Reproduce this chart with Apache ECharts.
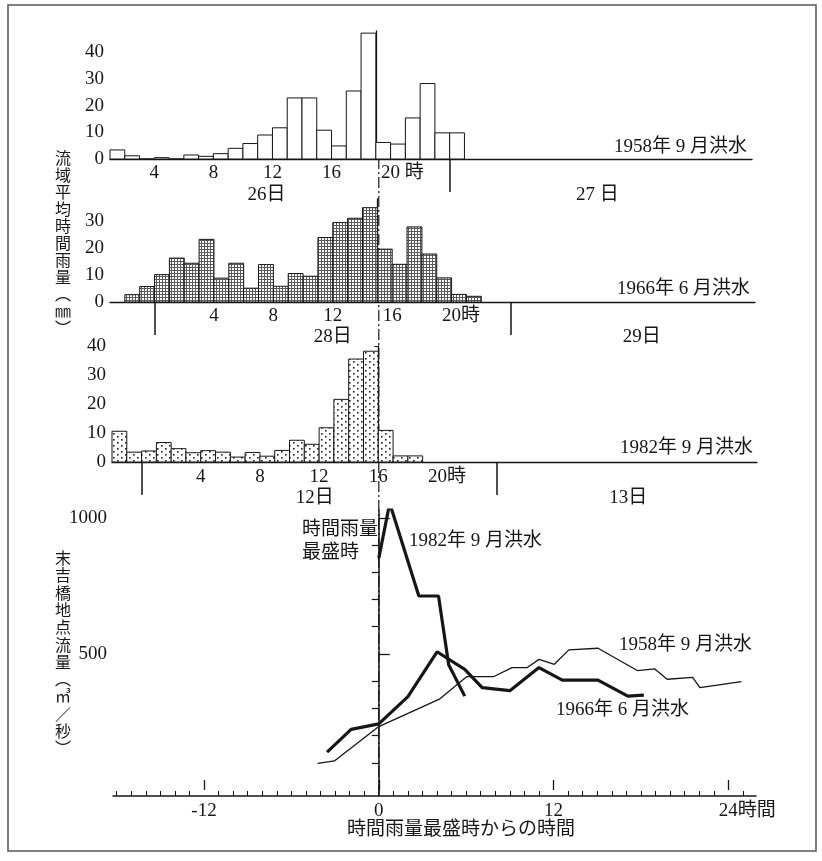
<!DOCTYPE html>
<html><head><meta charset="utf-8">
<script src="https://cdn.jsdelivr.net/npm/echarts@6/dist/echarts.min.js"></script>
<style>html,body{margin:0;padding:0;background:#fff}#c{width:822px;height:861px}</style>
</head><body><div id="c"></div>
<script>
// ---------- DATA ----------
// Hourly basin-average rainfall (mm). Each series starts at the given time (hours relative to the end of the peak rainfall hour).
const rain1958 = [3.4, 1.2, 0, 0.5, 0, 1.5, 1, 2, 4, 5.8, 9, 11.7, 22.9, 22.9, 10.8, 4.9, 25.5, 47.2, 6.2, 5.6, 15.4, 28.3, 9.8, 9.8];
const rain1958Start = -18;
const rain1966 = [2.7, 5.7, 10.1, 16.2, 14.3, 23.1, 8.8, 14.3, 5.1, 13.8, 5.8, 10.5, 9.5, 23.8, 29.3, 30.9, 34.8, 19.5, 13.9, 27.7, 17.7, 8.9, 2.8, 2.1];
const rain1966Start = -17;
const rain1982 = [10.6, 3.4, 3.8, 6.7, 4.6, 3.2, 3.9, 3.4, 1.7, 3.3, 2.0, 4.0, 7.5, 6.1, 11.8, 21.6, 35.5, 38.2, 10.9, 2.1, 2.1];
const rain1982Start = -18;

// Clock hour at which the peak rainfall hour ended
const peakHour1958 = 19;
const peakHour1966 = 15;
const peakHour1982 = 16;

// Hour-of-day tick labels and day boundaries (clock hours)
const hourTicks = [4, 8, 12, 16, 20];
const dayBoundary1958 = [24];
const dayBoundary1966 = [0, 24];
const dayBoundary1982 = [0, 24];
// Day labels and their positions (hours relative to peak)
const dayLabels1958 = ['26日', '27 日'];
const dayLabelPos1958 = [-7.4, 15];
const dayLabels1966 = ['28日', '29日'];
const dayLabelPos1966 = [-3, 17.8];
const dayLabels1982 = ['12日', '13日'];
const dayLabelPos1982 = [-4.3, 16.9];

// Rain axis ticks
const rainTicks1958 = [0, 10, 20, 30, 40];
const rainTicks1966 = [0, 10, 20, 30];
const rainTicks1982 = [0, 10, 20, 30, 40];

// Discharge at Sueyoshi bridge (m3/s): [hours from peak rainfall, discharge]
const flow1982 = [[0, 852], [0.75, 1054], [2.75, 713], [4.1, 713], [4.8, 460], [5.9, 345]];
const flow1966 = [[-3.55, 139], [-1.9, 223], [0, 243], [2, 343], [4, 508], [5.9, 443], [7.1, 376], [9, 365], [11, 450], [12.6, 404], [15.05, 404], [17.1, 345], [18.2, 349]];
const flow1958 = [[-4.2, 98], [-3.05, 107], [0, 233], [4.2, 335], [6.05, 417], [7.9, 417], [9.15, 450], [10.2, 450], [11, 480], [12.05, 462], [13.05, 515], [15.05, 521], [17.75, 439], [18.95, 445], [19.8, 407], [21.55, 414], [22.05, 376], [24.9, 398]];

const flowLabelTicks = [500, 1000];
const flowMinorTicks = [100, 200, 300, 400, 600, 700, 800, 900];
const timeLabelTicks = [-12, 0, 12, 24];

// ---------- CHART ----------
const FONT = "'Liberation Serif','Noto Sans CJK JP',serif";
const FS = 19;
const INK = '#161616';
const chart = echarts.init(document.getElementById('c'), null, {renderer: 'canvas'});

function makePattern(w, h, draw) {
  const c = document.createElement('canvas'); c.width = w; c.height = h;
  const g = c.getContext('2d'); g.fillStyle = '#fff'; g.fillRect(0, 0, w, h); draw(g);
  return {image: c, repeat: 'repeat'};
}
const densePat = makePattern(3, 3, g => { g.fillStyle = '#5a5a5a'; g.fillRect(0, 0, 3, 1); g.fillRect(0, 0, 1, 3); });
const sparsePat = makePattern(8, 6, g => { g.fillStyle = '#222'; g.fillRect(1, 1, 1.6, 1.6); g.fillRect(5, 4, 1.6, 1.6); });

function intRange(a, b) { const r = []; for (let i = a; i <= b; i++) r.push(i); return r; }

const labelStyle = {color: INK, fontFamily: FONT, fontSize: FS};

function hourAxis(gridIndex, peak, bounds, min, max, suffix, margin) {
  return {
    type: 'value', gridIndex, min, max, position: 'bottom',
    axisLine: {show: true, onZero: false, lineStyle: {color: INK, width: 1.3}},
    splitLine: {show: false},
    axisTick: {show: true, inside: false, length: 33, customValues: bounds.map(h => h - peak), lineStyle: {color: INK, width: 1.5}},
    axisLabel: Object.assign({}, labelStyle, {
      margin, customValues: hourTicks.map(h => h - peak), showMinLabel: true, showMaxLabel: true,
      formatter: v => { const h = Math.round(v + peak); return h === 20 ? '{g|' + suffix + '}20' + suffix : String(h); },
      rich: {g: {color: 'rgba(0,0,0,0)', fontFamily: FONT, fontSize: FS}}
    })
  };
}
function dayAxis(gridIndex, labels, pos, min, max, margin) {
  return {
    type: 'value', gridIndex, min, max, position: 'bottom',
    axisLine: {show: false}, axisTick: {show: false}, splitLine: {show: false},
    axisLabel: Object.assign({}, labelStyle, {
      margin, customValues: pos, showMinLabel: true, showMaxLabel: true,
      formatter: v => { const i = pos.findIndex(p => Math.abs(p - v) < 1e-6); return i >= 0 ? labels[i] : ''; }
    })
  };
}
function rainYAxis(gridIndex, max, ticks) {
  return {
    type: 'value', gridIndex, min: 0, max,
    axisLine: {show: true, lineStyle: {color: INK, width: 1.3}},
    splitLine: {show: false},
    axisTick: {show: true, inside: false, length: 4, customValues: ticks.filter(t => t > 0), lineStyle: {color: INK}},
    axisLabel: Object.assign({}, labelStyle, {margin: 6, customValues: ticks, showMinLabel: true, showMaxLabel: true, formatter: v => String(v)})
  };
}
function barSeries(xAxisIndex, yAxisIndex, values, start, fill) {
  return {
    type: 'custom', xAxisIndex, yAxisIndex, clip: false,
    data: values.map((v, i) => [start + i, start + i + 1, v]),
    encode: {x: [0, 1], y: 2},
    renderItem: (params, api) => {
      const p0 = api.coord([api.value(0), api.value(2)]);
      const p1 = api.coord([api.value(1), 0]);
      return {type: 'rect', shape: {x: p0[0], y: p0[1], width: p1[0] - p0[0], height: p1[1] - p0[1]},
        style: {fill: fill, stroke: INK, lineWidth: 1}};
    }
  };
}

const X3 = {min: -18.25, max: 25.9};

function txt(x, y, text, opts) {
  return {type: 'text', x, y, z: 50, style: Object.assign({text, font: FS + 'px ' + FONT, fill: INK, textAlign: 'left', textVerticalAlign: 'middle'}, opts || {})};
}

const option = {
  animation: false,
  backgroundColor: '#fff',
  grid: [
    {left: 110, top: 31, width: 642, height: 128},
    {left: 110, top: 199, width: 645, height: 103},
    {left: 112, top: 346, width: 645, height: 116},
    {left: 113, top: 510, width: 643, height: 286},
    {left: 113, top: 160, width: 643, height: 636}
  ],
  xAxis: [
    hourAxis(0, peakHour1958, dayBoundary1958, -18, 25.47, ' 時', 5),
    dayAxis(0, dayLabels1958, dayLabelPos1958, -18, 25.47, 27),
    hourAxis(1, peakHour1966, dayBoundary1966, -18, 25.43, '時', 5),
    dayAxis(1, dayLabels1966, dayLabelPos1966, -18, 25.43, 26),
    hourAxis(2, peakHour1982, dayBoundary1982, -18, 25.6, '時', 6),
    dayAxis(2, dayLabels1982, dayLabelPos1982, -18, 25.6, 27),
    { // bottom: axis line + hourly minor ticks
      type: 'value', gridIndex: 3, min: X3.min, max: X3.max, position: 'bottom',
      axisLine: {show: true, onZero: false, lineStyle: {color: INK, width: 1.5}},
      splitLine: {show: false},
      axisTick: {show: true, inside: true, length: 5, customValues: intRange(-18, 25).filter(v => timeLabelTicks.indexOf(v) < 0), lineStyle: {color: INK}},
      axisLabel: {show: false}
    },
    { // bottom: major ticks + labels
      type: 'value', gridIndex: 3, min: X3.min, max: X3.max, position: 'bottom',
      axisLine: {show: false}, splitLine: {show: false},
      axisTick: {show: true, inside: true, length: 10, customValues: timeLabelTicks, lineStyle: {color: INK, width: 1.3}},
      axisLabel: Object.assign({}, labelStyle, {
        margin: 6, customValues: timeLabelTicks, showMinLabel: true, showMaxLabel: true,
        formatter: v => v === 24 ? '{g|時間}24時間' : String(v),
        rich: {g: {color: 'rgba(0,0,0,0)', fontFamily: FONT, fontSize: FS}}
      })
    },
    {type: 'value', gridIndex: 4, min: X3.min, max: X3.max, show: false}
  ],
  yAxis: [
    rainYAxis(0, 48, rainTicks1958),
    rainYAxis(1, 38, rainTicks1966),
    rainYAxis(2, 40, rainTicks1982),
    {
      type: 'value', gridIndex: 3, min: -22, max: 1029,
      axisLine: {show: true, lineStyle: {color: INK, width: 1.5}},
      splitLine: {show: false},
      axisTick: {show: true, inside: true, length: 11, customValues: flowLabelTicks, lineStyle: {color: INK, width: 1.3}},
      axisLabel: Object.assign({}, labelStyle, {margin: 6, customValues: flowLabelTicks, showMinLabel: true, showMaxLabel: true, formatter: v => String(v)})
    },
    {
      type: 'value', gridIndex: 3, min: -22, max: 1029,
      axisLine: {show: false}, splitLine: {show: false},
      axisTick: {show: true, inside: true, length: 7, customValues: flowMinorTicks, lineStyle: {color: INK, width: 1.2}},
      axisLabel: {show: false}
    },
    {type: 'value', gridIndex: 4, min: 0, max: 1, show: false}
  ],
  series: [
    { // peak-rainfall reference line (dash-dot)
      type: 'line', xAxisIndex: 8, yAxisIndex: 5, data: [[0, 0], [0, 1]], symbol: 'none', silent: true, z: 1,
      lineStyle: {color: INK, width: 1.2, type: [11, 3, 2, 3]}
    },
    barSeries(0, 0, rain1958, rain1958Start, '#fff'),
    barSeries(2, 1, rain1966, rain1966Start, densePat),
    barSeries(4, 2, rain1982, rain1982Start, sparsePat),
    {type: 'line', xAxisIndex: 6, yAxisIndex: 3, data: flow1958, symbol: 'none', lineStyle: {color: INK, width: 1.3}},
    {type: 'line', xAxisIndex: 6, yAxisIndex: 3, data: flow1966, symbol: 'none', lineStyle: {color: INK, width: 3.2}},
    {type: 'line', xAxisIndex: 6, yAxisIndex: 3, data: flow1982, symbol: 'none', lineStyle: {color: INK, width: 3.2}}
  ],
  graphic: [
    {type: 'rect', z: 0, shape: {x: 8, y: 5, width: 808, height: 846}, style: {fill: 'none', stroke: '#555', lineWidth: 1.5}},
    txt(614, 147, '1958年 9 月洪水'),
    txt(617, 289, '1966年 6 月洪水'),
    txt(620, 448, '1982年 9 月洪水'),
    txt(302, 530, '時間雨量'),
    txt(302, 553, '最盛時'),
    txt(409, 541, '1982年 9 月洪水'),
    txt(619, 645, '1958年 9 月洪水'),
    txt(556, 710, '1966年 6 月洪水'),
    txt(347, 830, '時間雨量最盛時からの時間'),
    txt(63, 245, '流\n域\n平\n均\n時\n間\n雨\n量\n︵\n㎜\n︶', {textAlign: 'center', font: '16px ' + FONT, lineHeight: 17}),
    txt(63, 655, '末\n吉\n橋\n地\n点\n流\n量\n︵\n㎥\n／\n秒\n︶', {textAlign: 'center', font: '16px ' + FONT, lineHeight: 17.3})
  ]
};
chart.setOption(option);
</script>
</body></html>
